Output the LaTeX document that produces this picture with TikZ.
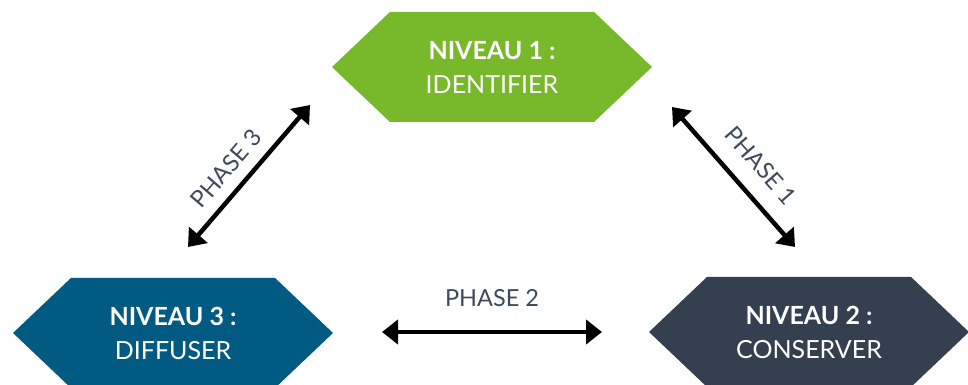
\documentclass[tikz,border=0pt]{standalone}
\usepackage{fontspec}
\setmainfont{Lato}
\usepackage{xcolor}
\usetikzlibrary{shapes.symbols,arrows.meta}

\definecolor{vert}{HTML}{78B82B}
\definecolor{bleu}{HTML}{005A82}
\definecolor{ardoise}{HTML}{343F50}
\definecolor{gristexte}{HTML}{3D4A5C}

\tikzset{
	niveau/.style={signal, signal to=west and east, signal pointer angle=87,
		minimum width=320pt, minimum height=110pt, inner sep=0pt,
		text=white, align=center, font=\fontsize{25}{34}\selectfont},
	fleche/.style={line width=4.5pt, {Triangle[length=16pt,width=24pt]}-{Triangle[length=16pt,width=24pt]}},
	phase/.style={text=gristexte, font=\fontsize{23.5}{26}\selectfont, sloped}
}

\begin{document}
\begin{tikzpicture}[x=1pt,y=1pt]
	\useasboundingbox (0,0) rectangle (968,385);
	% niveaux
	\node[niveau, fill=vert] (n1) at (492,318) {\textbf{NIVEAU 1 :}\\IDENTIFIER};
	\node[niveau, fill=bleu] (n3) at (173,52) {\textbf{NIVEAU 3 :}\\DIFFUSER};
	\node[niveau, fill=ardoise] (n2) at (809,53) {\textbf{NIVEAU 2 :}\\CONSERVER};
	% bouts des fleches
	\coordinate (p1a) at (672,278);
	\coordinate (p1b) at (795,138);
	\coordinate (p2a) at (382,53);
	\coordinate (p2b) at (602,53);
	\coordinate (p3a) at (188,138);
	\coordinate (p3b) at (310,280);
	% phases
	\draw[fleche] (p1a) -- (p1b) node[pos=0.55, phase, above=14pt] (ph1) {PHASE 1};
	\draw[fleche] (p2a) -- (p2b) node[midway, phase, above=20pt] (ph2) {PHASE 2};
	\draw[fleche] (p3a) -- (p3b) node[pos=0.45, phase, above=8pt] (ph3) {PHASE 3};
\end{tikzpicture}
\end{document}
